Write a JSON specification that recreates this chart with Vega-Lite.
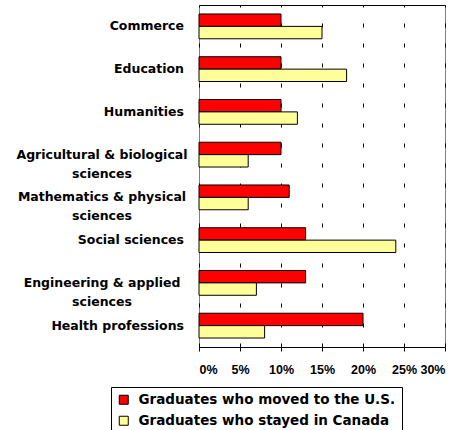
{
  "$schema": "https://vega.github.io/schema/vega-lite/v6.json",
  "autosize": "none",
  "width": 246,
  "height": 342,
  "padding": {"left": 199, "top": 5, "right": 16, "bottom": 83},
  "background": "white",
  "config": {
    "view": {"stroke": "#808080", "strokeWidth": 1},
    "axis": {"domainColor": "black", "tickColor": "black", "labelColor": "black"}
  },
  "data": {
    "values": [
      {"field": "Commerce", "group": "Graduates who moved to the U.S.", "value": 10},
      {"field": "Commerce", "group": "Graduates who stayed in Canada", "value": 15},
      {"field": "Education", "group": "Graduates who moved to the U.S.", "value": 10},
      {"field": "Education", "group": "Graduates who stayed in Canada", "value": 18},
      {"field": "Humanities", "group": "Graduates who moved to the U.S.", "value": 10},
      {"field": "Humanities", "group": "Graduates who stayed in Canada", "value": 12},
      {"field": "Agricultural & biological|sciences", "group": "Graduates who moved to the U.S.", "value": 10},
      {"field": "Agricultural & biological|sciences", "group": "Graduates who stayed in Canada", "value": 6},
      {"field": "Mathematics & physical|sciences", "group": "Graduates who moved to the U.S.", "value": 11},
      {"field": "Mathematics & physical|sciences", "group": "Graduates who stayed in Canada", "value": 6},
      {"field": "Social sciences", "group": "Graduates who moved to the U.S.", "value": 13},
      {"field": "Social sciences", "group": "Graduates who stayed in Canada", "value": 24},
      {"field": "Engineering & applied|sciences", "group": "Graduates who moved to the U.S.", "value": 13},
      {"field": "Engineering & applied|sciences", "group": "Graduates who stayed in Canada", "value": 7},
      {"field": "Health professions", "group": "Graduates who moved to the U.S.", "value": 20},
      {"field": "Health professions", "group": "Graduates who stayed in Canada", "value": 8}
    ]
  },
  "layer": [
    {
      "mark": {"type": "bar", "stroke": "black", "strokeWidth": 1},
      "encoding": {
        "y": {
          "field": "field",
          "type": "nominal",
          "sort": null,
          "scale": {"paddingInner": 0.42, "paddingOuter": 0.21},
          "axis": {
            "title": null,
            "labels": false,
            "tickSize": 4,
            "tickBand": "extent"
          }
        },
        "yOffset": {
          "field": "group",
          "type": "nominal",
          "sort": ["Graduates who moved to the U.S.", "Graduates who stayed in Canada"],
          "scale": {"paddingInner": 0, "paddingOuter": 0}
        },
        "x": {
          "field": "value",
          "type": "quantitative",
          "scale": {"domain": [0, 30], "nice": false},
          "axis": {
            "title": null,
            "values": [0, 5, 10, 15, 20, 25, 30],
            "labelExpr": "datum.value + '%'",
            "labelFont": "Liberation Sans",
            "labelFontWeight": "bold",
            "labelFontSize": 12.5,
            "labelPadding": 12,
            "tickSize": 4,
            "grid": true,
            "gridColor": "black",
            "gridDash": [4, 16],
            "gridWidth": 1,
            "gridOpacity": 1
          }
        },
        "fill": {
          "field": "group",
          "type": "nominal",
          "scale": {
            "domain": ["Graduates who moved to the U.S.", "Graduates who stayed in Canada"],
            "range": ["#FF0000", "#FFFF99"]
          },
          "legend": {
            "title": null,
            "orient": "none",
            "legendX": -88,
            "legendY": 382,
            "direction": "vertical",
            "strokeColor": "black",
            "fillColor": "white",
            "padding": 6,
            "rowPadding": 6,
            "symbolType": "square",
            "symbolSize": 81,
            "symbolStrokeColor": "black",
            "symbolStrokeWidth": 1,
            "symbolOpacity": 1,
            "labelFont": "DejaVu Sans",
            "labelFontWeight": "bold",
            "labelFontSize": 13.5,
            "labelColor": "black",
            "labelOffset": 8,
            "labelLimit": 0
          }
        }
      }
    },
    {
      "mark": {"type": "bar", "opacity": 0},
      "encoding": {
        "y": {"field": "field", "type": "nominal", "sort": null, "axis": null},
        "x": {
          "field": "value",
          "type": "quantitative",
          "axis": {"orient": "top", "title": null, "labels": false, "ticks": false, "grid": false, "domainColor": "black"}
        }
      }
    },
    {
      "transform": [
        {"filter": "datum.group == 'Graduates who moved to the U.S.' && indexof(datum.field, '|') < 0"}
      ],
      "mark": {"type": "text", "align": "right", "baseline": "middle", "dx": -15, "font": "DejaVu Sans", "fontWeight": "bold", "fontSize": 12.5, "color": "black"},
      "encoding": {
        "y": {"field": "field", "type": "nominal", "sort": null, "axis": null},
        "x": {"datum": 0, "type": "quantitative", "axis": null},
        "text": {"field": "field"}
      }
    },
    {
      "transform": [
        {"filter": "datum.group == 'Graduates who moved to the U.S.' && indexof(datum.field, '|') >= 0"}
      ],
      "mark": {"type": "text", "align": "center", "baseline": "middle", "dx": -97, "lineBreak": "|", "lineHeight": 19, "font": "DejaVu Sans", "fontWeight": "bold", "fontSize": 12.5, "color": "black"},
      "encoding": {
        "y": {"field": "field", "type": "nominal", "sort": null, "axis": null},
        "x": {"datum": 0, "type": "quantitative", "axis": null},
        "text": {"field": "field"}
      }
    }
  ],
  "resolve": {"axis": {"x": "independent"}}
}
